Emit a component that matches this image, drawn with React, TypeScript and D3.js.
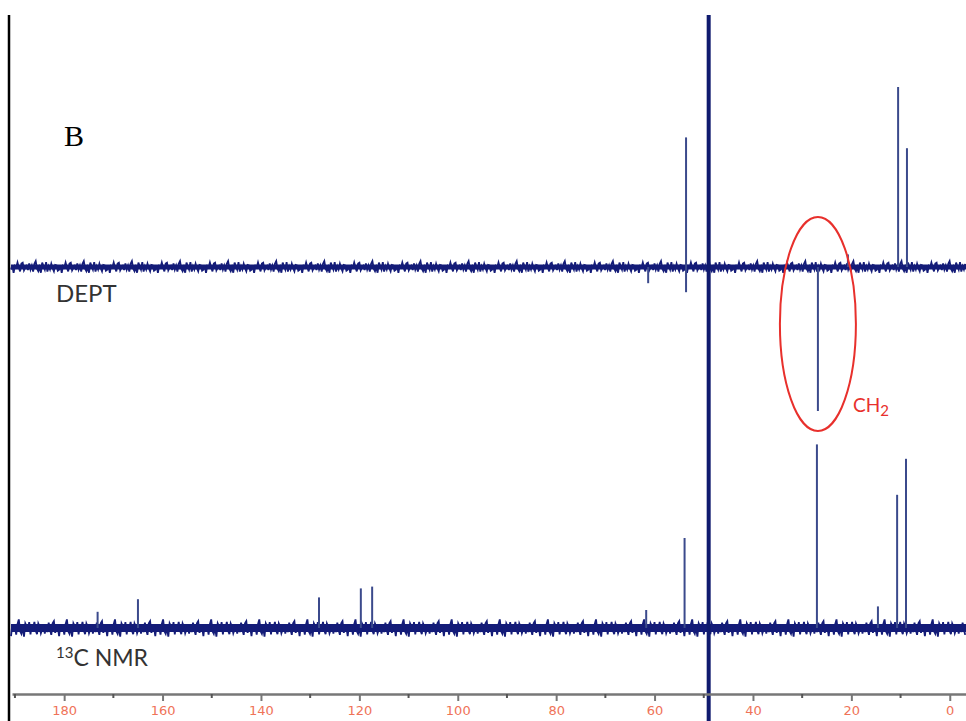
import React from 'react'
import * as d3 from 'd3'

// chemical shift ticks (ppm)
const majorTicks = [180, 160, 140, 120, 100, 80, 60, 40, 20, 0]
const minorTicks = [190, 170, 150, 130, 110, 90, 70, 50, 30, 10]

// DEPT peaks: ppm, top, bottom (arbitrary intensity, + up)
const deptPpm = [53.6, 61.3, 26.8, 20.7, 10.5, 8.7]
const deptHi = [72, 0, 0, 7, 100, 66]
const deptLo = [-14, -9, -80, 0, 0, 0]

// 13C NMR peaks
const c13Ppm = [173.2, 165.0, 128.2, 119.7, 117.4, 61.7, 53.9, 27.0, 14.6, 10.7, 8.9]
const c13Hi = [9, 16, 17, 22, 23, 10, 50, 102, 12, 74, 94]

// solvent line (CD3OD)
const solventPpm = 49.0

// baseline noise pattern, cycled along the trace
const noise = [
  0.3, -0.6, 0.9, -0.2, 0.5, -0.9, 0.1, 0.7, -0.4, -0.8, 0.6, 0.2, -0.3, 1.0, -0.7,
  0.4, -0.1, 0.8, -0.5, -1.0, 0.3, 0.6, -0.2, 0.9, -0.6, 0.0, 0.5, -0.8, 0.7, -0.3,
  0.2, -0.9, 0.4, 0.8, -0.4, -0.1, 0.6,
]

function Spectrum() {
  const svgRef = React.useRef(null)

  React.useEffect(() => {
    const svg = d3.select(svgRef.current)
    svg.selectAll('*').remove()

    const width = 966
    const height = 721

    const xScale = d3.scaleLinear().domain([190.6, -3.3]).range([12, 966])

    // intensity scales, one per trace
    const yDept = d3.scaleLinear().domain([-100, 100]).range([267 + 180, 267 - 180])
    const yC13 = d3.scaleLinear().domain([-100, 100]).range([628 + 180, 628 - 180])

    const navy = '#141c78'
    const peakColor = '#3b4a8c'

    // left frame line
    svg
      .append('line')
      .attr('x1', 9)
      .attr('x2', 9)
      .attr('y1', 15)
      .attr('y2', height)
      .attr('stroke', '#000')
      .attr('stroke-width', 2.5)

    // noisy baselines
    const drawBaseline = (yScale, offset, amp, core) => {
      const pts = []
      let i = 0
      for (let px = 11; px <= width; px += 1.3) {
        const n = noise[(i + offset) % noise.length]
        const n2 = noise[(i * 3 + offset + 7) % noise.length]
        pts.push([px, yScale(0) + n * amp + n2 * 1.8])
        i++
      }
      svg
        .append('line')
        .attr('x1', 11)
        .attr('x2', width)
        .attr('y1', yScale(0))
        .attr('y2', yScale(0))
        .attr('stroke', navy)
        .attr('stroke-width', core)
      svg
        .append('path')
        .attr('d', d3.line()(pts))
        .attr('fill', 'none')
        .attr('stroke', navy)
        .attr('stroke-width', 1.8)
    }
    drawBaseline(yDept, 0, 4.5, 5)
    drawBaseline(yC13, 13, 7.5, 8)

    // DEPT peaks
    svg
      .append('g')
      .selectAll('line')
      .data(deptPpm)
      .enter()
      .append('line')
      .attr('x1', (d) => xScale(d))
      .attr('x2', (d) => xScale(d))
      .attr('y1', (d, i) => yDept(deptHi[i]))
      .attr('y2', (d, i) => yDept(deptLo[i]))
      .attr('stroke', peakColor)
      .attr('stroke-width', 2)

    // 13C peaks
    svg
      .append('g')
      .selectAll('line')
      .data(c13Ppm)
      .enter()
      .append('line')
      .attr('x1', (d) => xScale(d))
      .attr('x2', (d) => xScale(d))
      .attr('y1', (d, i) => yC13(c13Hi[i]))
      .attr('y2', yC13(0))
      .attr('stroke', peakColor)
      .attr('stroke-width', 2)

    // solvent line
    svg
      .append('line')
      .attr('x1', xScale(solventPpm))
      .attr('x2', xScale(solventPpm))
      .attr('y1', 15)
      .attr('y2', height)
      .attr('stroke', '#0f1a6e')
      .attr('stroke-width', 4)

    // CH2 ellipse + label
    svg
      .append('ellipse')
      .attr('cx', xScale(26.8))
      .attr('cy', 324)
      .attr('rx', 38)
      .attr('ry', 107)
      .attr('fill', 'none')
      .attr('stroke', '#e8302c')
      .attr('stroke-width', 2)

    const ch2 = svg
      .append('text')
      .attr('x', 853)
      .attr('y', 412)
      .attr('fill', '#e8302c')
      .attr('font-family', 'Lato, "Open Sans", sans-serif')
      .attr('font-size', 19)
    ch2.append('tspan').text('CH')
    ch2.append('tspan').attr('font-size', 15).attr('dy', 4).text('2')

    // trace labels
    svg
      .append('text')
      .attr('x', 56)
      .attr('y', 302)
      .attr('fill', '#333')
      .attr('font-family', 'Lato, "Open Sans", sans-serif')
      .attr('font-size', 24)
      .text('DEPT')

    const c13 = svg
      .append('text')
      .attr('x', 56)
      .attr('y', 666)
      .attr('fill', '#333')
      .attr('font-family', 'Lato, "Open Sans", sans-serif')
      .attr('font-size', 23)
    c13.append('tspan').attr('font-size', 15).attr('dy', -8).text('13')
    c13.append('tspan').attr('dy', 8).text('C NMR')

    svg
      .append('text')
      .attr('x', 64)
      .attr('y', 146)
      .attr('fill', '#000')
      .attr('font-family', '"Liberation Serif", "Times New Roman", serif')
      .attr('font-size', 30)
      .text('B')

    // x axis
    const axisY = 694
    const axis = svg.append('g').attr('transform', `translate(0, ${axisY})`)
    axis
      .call(
        d3
          .axisBottom(xScale)
          .tickValues(majorTicks)
          .tickSize(7)
          .tickSizeOuter(0)
          .tickFormat((d) => d)
      )
    axis.select('.domain').attr('stroke', '#777').attr('stroke-width', 2.5)
    axis.selectAll('.tick line').attr('stroke', '#777').attr('stroke-width', 2)
    axis
      .selectAll('.tick text')
      .attr('fill', '#ef7358')
      .attr('font-size', 13)
      .attr('font-family', '"DejaVu Sans", sans-serif')
      .attr('dy', '0.85em')

    svg
      .append('g')
      .selectAll('line')
      .data(minorTicks)
      .enter()
      .append('line')
      .attr('x1', (d) => xScale(d))
      .attr('x2', (d) => xScale(d))
      .attr('y1', axisY)
      .attr('y2', axisY + 4)
      .attr('stroke', '#555')
      .attr('stroke-width', 2)
  }, [])

  return (
    <svg
      ref={svgRef}
      width={966}
      height={721}
      style={{ position: 'absolute', left: 0, top: 0, background: '#fff' }}
    ></svg>
  )
}

export default function App() {
  return <Spectrum />
}
